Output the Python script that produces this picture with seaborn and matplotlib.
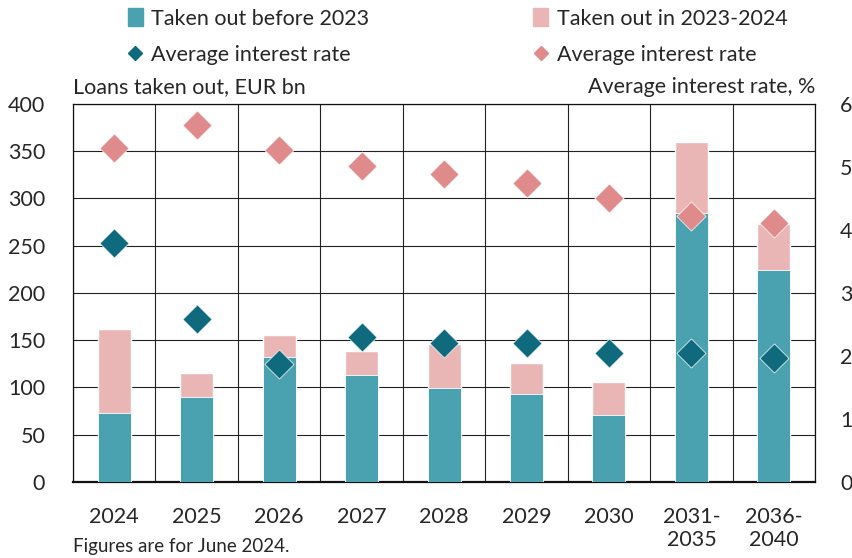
import pandas as pd
import seaborn as sns
import numpy as np
import matplotlib.pyplot as plt
from matplotlib.patches import Patch
from matplotlib.lines import Line2D

# data
periods = ['2024', '2025', '2026', '2027', '2028', '2029', '2030',
           '2031-\n2035', '2036-\n2040']
before_2023 = [73, 90, 132, 113, 99, 93, 71, 285, 224]
in_2023_2024 = [89, 25, 23, 25, 47, 33, 35, 75, 49]
rate_before = [3.79, 2.58, 1.87, 2.30, 2.20, 2.21, 2.04, 2.04, 1.97]
rate_new = [5.30, 5.67, 5.27, 5.02, 4.88, 4.75, 4.50, 4.22, 4.11]

teal_bar = '#4aa1af'
pink_bar = '#e9b5b5'
teal_dot = '#0e6a7c'
pink_dot = '#df8b8b'

df = pd.DataFrame({'period': periods,
                   'before': before_2023,
                   'new': in_2023_2024,
                   'rate_before': rate_before,
                   'rate_new': rate_new})
df['total'] = df['before'] + df['new']

sns.set_style('white')
plt.rcParams['font.family'] = ['Lato', 'DejaVu Sans']
plt.rcParams['font.size'] = 15

fig = plt.figure(figsize=(8.52, 5.58), dpi=100)
ax = fig.add_axes([0.0857, 0.1367, 0.871, 0.677])

sns.barplot(data=df, x='period', y='total', color=pink_bar, width=0.4,
            saturation=1, ax=ax, zorder=2)
sns.barplot(data=df, x='period', y='before', color=teal_bar, width=0.4,
            saturation=1, ax=ax, zorder=3, edgecolor='white', linewidth=0.6)

ax.set_ylim(0, 400)
ax.set_xlim(-0.5, len(periods) - 0.5)
ax.set_yticks(range(0, 401, 50))
ax.set_xlabel('')
ax.set_ylabel('')
ax.set_xticks(np.arange(-0.5, len(periods)), minor=True)
ax.grid(axis='y', color='#222222', lw=0.8, zorder=0)
ax.grid(axis='x', which='minor', color='#222222', lw=0.8, zorder=0)
ax.grid(axis='x', which='major', visible=False)
ax.set_axisbelow(True)
ax.tick_params(axis='y', length=0, pad=20, labelsize=15.5)
ax.tick_params(axis='x', which='major', direction='in', length=5,
               color='#333333', pad=18, labelsize=15.5)
ax.tick_params(axis='x', which='minor', length=0)
for s in ax.spines.values():
    s.set_color('#111111')
    s.set_linewidth(0.9)
ax.spines['bottom'].set_linewidth(1.6)

ax2 = ax.twinx()
sns.scatterplot(data=df, x='period', y='rate_new', marker='D', s=220,
                color=pink_dot, edgecolor='white', linewidth=0.5, ax=ax2, zorder=5)
sns.scatterplot(data=df, x='period', y='rate_before', marker='D', s=220,
                color=teal_dot, edgecolor='white', linewidth=0.5, ax=ax2, zorder=5)
ax2.set_ylim(0, 6)
ax2.set_xlim(-0.5, len(periods) - 0.5)
ax2.set_yticks(range(0, 7))
ax2.set_ylabel('')
ax2.set_xlabel('')
ax2.tick_params(axis='y', length=0, pad=18, labelsize=15.5)
for s in ax2.spines.values():
    s.set_visible(False)

fig.text(0.0857, 0.826, 'Loans taken out, EUR bn', fontsize=15.5, ha='left', va='bottom')
fig.text(0.957, 0.826, 'Average interest rate, %', fontsize=15.5, ha='right', va='bottom')
fig.text(0.0857, 0.006, 'Figures are for June 2024.', fontsize=13.5, ha='left', va='bottom')

handles = [Patch(color=teal_bar, label='Taken out before 2023'),
           Line2D([], [], marker='D', ls='', color=teal_dot, markersize=7,
                  label='Average interest rate'),
           Patch(color=pink_bar, label='Taken out in 2023-2024'),
           Line2D([], [], marker='D', ls='', color=pink_dot, markersize=7,
                  label='Average interest rate')]
fig.legend(handles=handles, ncol=2, loc='upper center', bbox_to_anchor=(0.537, 1.02),
           frameon=False, fontsize=15.5, handlelength=0.7, handleheight=0.9,
           handletextpad=0.4, columnspacing=7.6, labelspacing=0.75)

fig.savefig('out.png', dpi=100)
